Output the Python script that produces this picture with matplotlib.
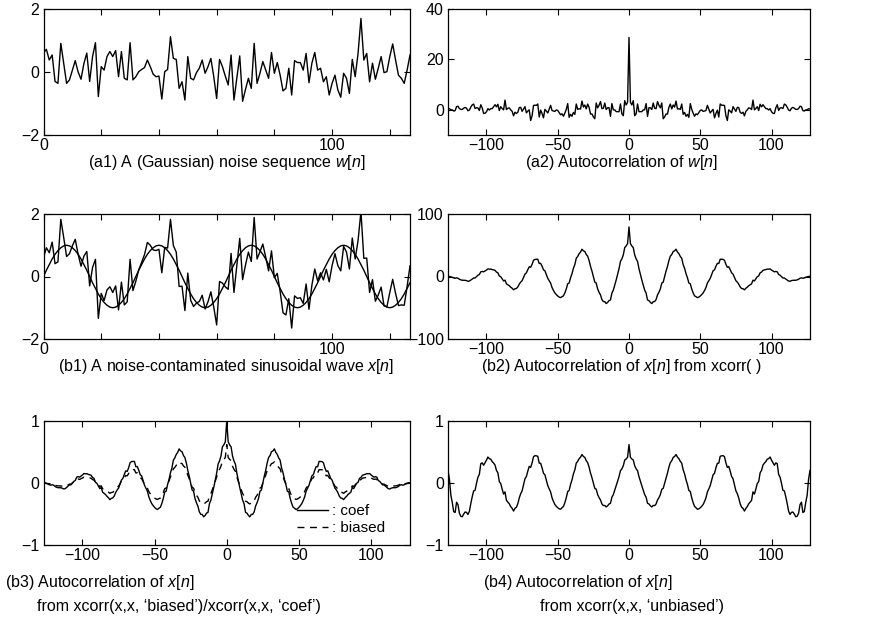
import numpy as np
import matplotlib
matplotlib.use("Agg")
import matplotlib.pyplot as plt

plt.rcParams['font.family'] = ['Liberation Sans', 'DejaVu Sans']
plt.rcParams['mathtext.fontset'] = 'custom'
plt.rcParams['mathtext.rm'] = 'Liberation Sans'
plt.rcParams['mathtext.it'] = 'Liberation Sans:italic'

# ---- data ----
n = np.arange(128)
w = [0.6, 0.72, 0.38, 0.54, -0.3, -0.36, 0.91, 0.27, -0.36, -0.25,
     0.06, 0.36, 0.0, -0.23, 0.27, 0.6, -0.3, 0.49, 0.93, -0.78,
     0.17, 0.06, 0.49, 0.65, 0.49, 0.68, -0.15, 0.65, -0.2, -0.25,
     0.93, -0.25, -0.15, 0.01, 0.08, 0.14, 0.38, 0.17, -0.07, -0.15,
     -0.13, -0.86, 0.01, 0.08, 1.12, 0.43, 0.40, -0.52, -0.31, -0.89,
     0.49, -0.2, -0.25, -0.02, 0.12, 0.38, -0.04, 0.17, 0.43, -0.15,
     -0.84, 0.40, 0.17, -0.13, -0.41, 0.54, -0.89, -0.2, 0.51, -0.93,
     -0.55, -0.2, -0.52, 0.91, -0.36, -0.04, 0.33, 0.06, -0.2, 0.62,
     -0.04, 0.30, -0.1, -0.6, -0.52, 0.12, -0.73, 0.36, 0.30, 0.30,
     0.06, 0.59, -0.34, 0.28, 0.62, 0.06, 0.12, -0.31, -0.15, -0.73,
     -0.36, -0.1, -0.57, -0.8, -0.04, -0.2, -0.68, 0.40, -0.15, 0.59,
     1.7, 0.38, 0.59, -0.31, 0.28, -0.23, 0.12, 0.49, -0.02, 0.01,
     0.49, 0.89, 0.38, -0.1, -0.2, -0.36, 0.06, 0.54]
s = [0.00, 0.20, 0.38, 0.56, 0.71, 0.83, 0.92, 0.98, 1.00, 0.98, 0.92, 0.83, 0.71, 0.56, 0.38, 0.20,
     0.00, -0.20, -0.38, -0.56, -0.71, -0.83, -0.92, -0.98, -1.00, -0.98, -0.92, -0.83, -0.71, -0.56, -0.38, -0.20,
     0.00, 0.20, 0.38, 0.56, 0.71, 0.83, 0.92, 0.98, 1.00, 0.98, 0.92, 0.83, 0.71, 0.56, 0.38, 0.20,
     0.00, -0.20, -0.38, -0.56, -0.71, -0.83, -0.92, -0.98, -1.00, -0.98, -0.92, -0.83, -0.71, -0.56, -0.38, -0.20,
     0.00, 0.20, 0.38, 0.56, 0.71, 0.83, 0.92, 0.98, 1.00, 0.98, 0.92, 0.83, 0.71, 0.56, 0.38, 0.20,
     0.00, -0.20, -0.38, -0.56, -0.71, -0.83, -0.92, -0.98, -1.00, -0.98, -0.92, -0.83, -0.71, -0.56, -0.38, -0.20,
     0.00, 0.20, 0.38, 0.56, 0.71, 0.83, 0.92, 0.98, 1.00, 0.98, 0.92, 0.83, 0.71, 0.56, 0.38, 0.20,
     0.00, -0.20, -0.38, -0.56, -0.71, -0.83, -0.92, -0.98, -1.00, -0.98, -0.92, -0.83, -0.71, -0.56, -0.38, -0.20]

w = np.array(w)
s = np.array(s)
x = s + w
N = len(x)
lags = np.arange(-(N - 1), N)

# autocorrelations (as xcorr would compute them)
phi_w = np.correlate(w, w, mode='full')
phi_x = np.correlate(x, x, mode='full')
phi_biased = phi_x / N
phi_coef = phi_x / phi_x[N - 1]
phi_unbiased = phi_x / (N - np.abs(lags))

left_xticks = [0, 20, 40, 60, 80, 100, 120]
left_xticklabels = ['0', '', '', '', '', '100', '']
right_xticks = [-100, -50, 0, 50, 100]

# ---- layout ----
W, H = 880, 624
fig = plt.figure(figsize=(W / 100, H / 100), dpi=100)

def rect(l, t, r, b):
    return [l / W, 1 - b / H, (r - l) / W, (b - t) / H]

LX = (43.5, 410)
RX = (448, 810)
ROWS = [(9, 135), (214, 339), (421, 545)]

def style(ax):
    ax.tick_params(direction='in', top=True, right=True, length=4, width=0.8,
                   labelsize=11.5)
    ax.tick_params(axis='x', pad=2)
    ax.tick_params(axis='y', pad=3)
    for sp in ax.spines.values():
        sp.set_linewidth(0.9)

axes = {}
for r, (t, b) in enumerate(ROWS):
    axes[(r, 0)] = fig.add_axes(rect(LX[0], t, LX[1], b))
    axes[(r, 1)] = fig.add_axes(rect(RX[0], t, RX[1], b))
for ax in axes.values():
    style(ax)

LAGLIM = (-127, 127)
lw = 1.0
# (a1)
ax = axes[(0, 0)]
ax.plot(n, w, 'k-', lw=lw)
ax.set_xlim(0, 127); ax.set_ylim(-2, 2)
ax.set_xticks(left_xticks); ax.set_xticklabels(left_xticklabels)
ax.set_yticks([-2, 0, 2])

# (a2)
ax = axes[(0, 1)]
ax.plot(lags, phi_w, 'k-', lw=lw)
ax.set_xlim(*LAGLIM); ax.set_ylim(-10, 40)
ax.set_xticks(right_xticks); ax.set_yticks([0, 20, 40])

# (b1)
ax = axes[(1, 0)]
ax.plot(n, x, 'k-', lw=lw)
ax.plot(n, s, 'k-', lw=lw)
ax.set_xlim(0, 127); ax.set_ylim(-2, 2)
ax.set_xticks(left_xticks); ax.set_xticklabels(left_xticklabels)
ax.set_yticks([-2, 0, 2])

# (b2)
ax = axes[(1, 1)]
ax.plot(lags, phi_x, 'k-', lw=lw)
ax.set_xlim(*LAGLIM); ax.set_ylim(-100, 100)
ax.set_xticks(right_xticks); ax.set_yticks([-100, 0, 100])

# (b3)
ax = axes[(2, 0)]
ax.plot(lags, phi_coef, 'k-', lw=lw, label=': coef')
ax.plot(lags, phi_biased, 'k', lw=lw, ls=(0, (5, 4)), label=': biased')
ax.set_xlim(*LAGLIM); ax.set_ylim(-1, 1)
ax.set_xticks(right_xticks); ax.set_yticks([-1, 0, 1])
ax.legend(loc='lower right', bbox_to_anchor=(0.97, -0.03), frameon=False,
          fontsize=11, handlelength=2.0, handletextpad=0.3, labelspacing=0.2)

# (b4)
ax = axes[(2, 1)]
ax.plot(lags, phi_unbiased, 'k-', lw=lw)
ax.set_xlim(*LAGLIM); ax.set_ylim(-1, 1)
ax.set_xticks(right_xticks); ax.set_yticks([-1, 0, 1])

# ---- captions ----
fs = 11.5
def cap(px, py, txt, ha='center'):
    fig.text(px / W, 1 - py / H, txt, ha=ha, va='center', fontsize=fs)

cap(227, 163, r'(a1) A (Gaussian) noise sequence $\mathit{w}$[$\mathit{n}$]')
cap(622, 163, r'(a2) Autocorrelation of $\mathit{w}$[$\mathit{n}$]')
cap(226, 367, r'(b1) A noise-contaminated sinusoidal wave $\mathit{x}$[$\mathit{n}$]')
cap(622, 367, r'(b2) Autocorrelation of $\mathit{x}$[$\mathit{n}$] from xcorr( )')
cap(5, 583, r'(b3) Autocorrelation of $\mathit{x}$[$\mathit{n}$]', ha='left')
cap(37, 606, 'from xcorr(x,x, \u2018biased\u2019)/xcorr(x,x, \u2018coef\u2019)', ha='left')
cap(483, 583, r'(b4) Autocorrelation of $\mathit{x}$[$\mathit{n}$]', ha='left')
cap(540, 606, 'from xcorr(x,x, \u2018unbiased\u2019)', ha='left')

fig.savefig('out.png', dpi=100)
